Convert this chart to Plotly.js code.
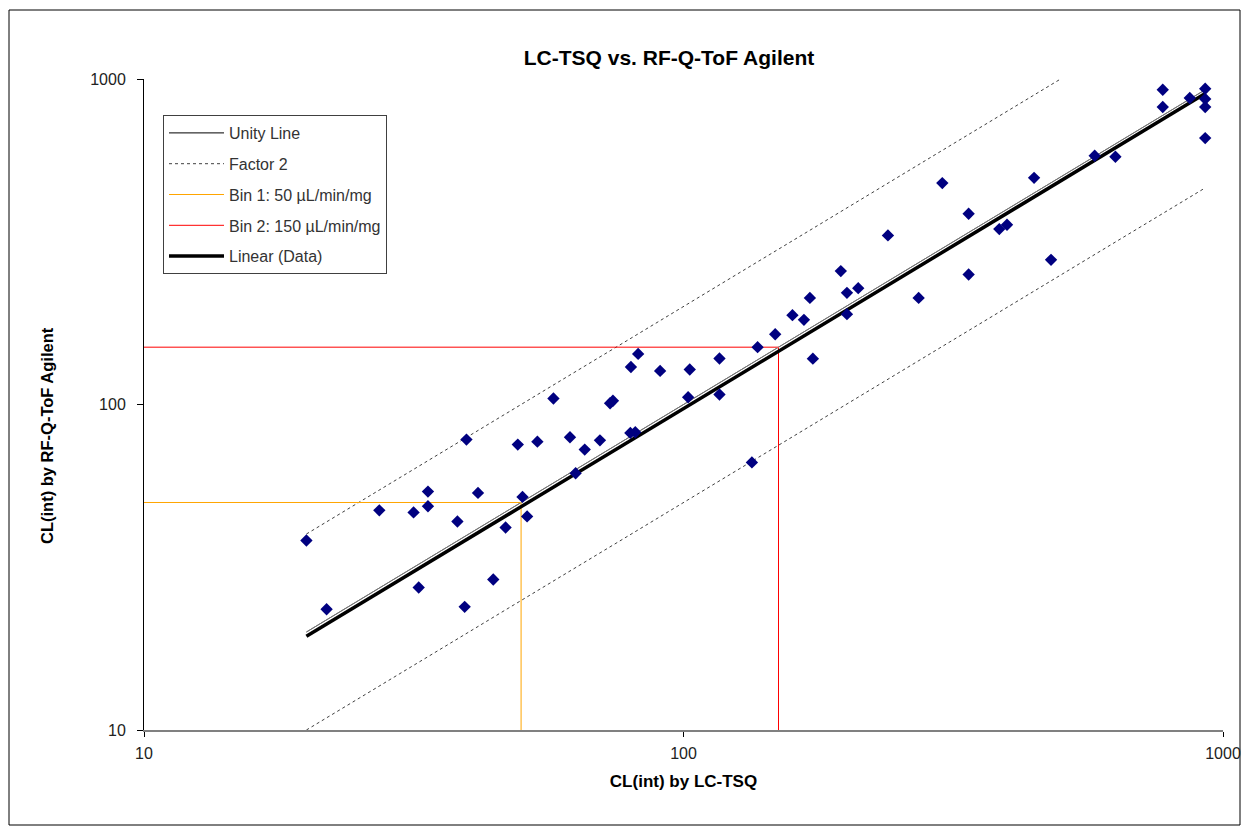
<!DOCTYPE html>
<html>
<head>
<meta charset="utf-8">
<script src="https://cdn.plot.ly/plotly-3.0.1.min.js"></script>
<style>
  html, body { margin: 0; padding: 0; background: #fff; }
  #chart { width: 1249px; height: 827px; }
</style>
</head>
<body>
<div id="chart"></div>
<script>
// ---- Data ----
const ltsqX = [20.0, 21.8, 27.3, 31.6, 32.3, 33.6, 33.6, 38.1, 39.3, 39.6,
               41.6, 44.4, 46.8, 49.3, 50.3, 51.3, 53.6, 57.4, 61.6, 63.1,
               65.6, 70.0, 73.1, 74.0, 79.9, 82.4, 90.5, 102.7, 79.7, 81.4,
               102.0, 116.6, 116.6, 137.2, 147.9, 173.7, 133.9, 159.2, 167.2, 171.5,
               195.7, 200.9, 210.8, 200.9, 239.3, 272.8, 301.8, 337.7, 337.7, 384.9,
               397.8, 446.5, 480.0, 578.3, 631.8, 773.3, 773.3, 867.8, 926.8, 926.8,
               926.8, 926.8];
const qtofY = [38.2, 23.5, 47.3, 46.6, 27.4, 54.0, 48.7, 43.7, 23.9, 78.0,
               53.5, 29.0, 41.9, 75.3, 52.0, 45.3, 76.9, 104.3, 79.3, 61.5,
               72.7, 77.6, 100.9, 102.7, 130.4, 143.0, 126.8, 128.1, 81.8, 82.2,
               105.3, 138.5, 107.3, 150.0, 164.4, 138.3, 66.4, 188.1, 182.0, 212.6,
               256.9, 220.3, 227.7, 189.5, 330.7, 212.6, 478.8, 385.4, 250.9, 345.8,
               356.5, 497.1, 278.2, 581.0, 576.8, 926.9, 820.2, 874.2, 933.6, 868.0,
               820.2, 658.5];

const unityX = [20, 927];
const unityY = [20, 927];
const factor2X = [20, 500, null, 20, 927];
const factor2Y = [40, 1000, null, 10, 463];
const bin1X = [10, 50, 50];
const bin1Y = [50, 50, 10];
const bin2X = [10, 150, 150];
const bin2Y = [150, 150, 10];
const fitX = [20, 927];
const fitY = [19.4, 902];

const tickVals = [10, 100, 1000];
const tickText = ['10', '100', '1000'];

const titleText = 'LC-TSQ vs. RF-Q-ToF Agilent';
const xTitleText = 'CL(int) by LC-TSQ';
const yTitleText = 'CL(int) by RF-Q-ToF Agilent';

// ---- Traces ----
const FONT = 'Liberation Sans, Arial, sans-serif';
const TICKFONT = 'Liberation Sans';
const traces = [
  { x: unityX, y: unityY, mode: 'lines', name: 'Unity Line', legendgroup: 'a',
    line: { color: '#000000', width: 1 } },
  { x: factor2X, y: factor2Y, mode: 'lines', name: 'Factor 2', legendgroup: 'b',
    connectgaps: false, line: { color: '#404040', width: 1, dash: 'dot' } },
  { x: bin1X, y: bin1Y, mode: 'lines', name: 'Bin 1: 50 µL/min/mg', legendgroup: 'c',
    line: { color: '#FFA500', width: 1 } },
  { x: bin2X, y: bin2Y, mode: 'lines', name: 'Bin 2: 150 µL/min/mg', legendgroup: 'd',
    line: { color: '#FF0000', width: 1 } },
  { x: fitX, y: fitY, mode: 'lines', name: 'Linear (Data)', legendgroup: 'e',
    line: { color: '#000000', width: 3.5 } },
  { x: unityX, y: unityY, mode: 'lines', showlegend: false, hoverinfo: 'skip',
    line: { color: 'rgba(200,200,200,0.6)', width: 1 } },
  { x: ltsqX, y: qtofY, mode: 'markers', name: 'Data', showlegend: false,
    marker: { symbol: 'diamond', size: 9.5, color: '#000080', line: { width: 0 } } }
];

// ---- Layout ----
const L = 144, R = 1223, T = 79, B = 730;
const W = 1249, H = 827;
const px2paperX = p => (p - L) / (R - L);
const px2paperY = p => (B - p) / (B - T);

const layout = {
  width: W, height: H,
  margin: { l: L, r: W - R, t: T, b: H - B, pad: 0 },
  paper_bgcolor: '#ffffff',
  plot_bgcolor: '#ffffff',
  font: { family: FONT, size: 16, color: '#222222' },
  title: {
    text: titleText,
    font: { family: FONT, size: 21, color: '#000000', weight: 'bold' },
    xref: 'container', yref: 'container',
    x: 669 / W, xanchor: 'center',
    y: 1 - 57.5 / H, yanchor: 'middle'
  },
  xaxis: {
    type: 'log', range: [1, 3], autorange: false,
    tickmode: 'array', tickvals: tickVals, ticktext: tickText,
    ticks: 'outside', ticklen: 5, tickcolor: '#000000', tickwidth: 1,
    ticklabelstandoff: 3,
    showline: true, linecolor: '#808080', linewidth: 2,
    showgrid: false, zeroline: false,
    tickfont: { family: TICKFONT, size: 16, color: '#222222' },
    title: { text: xTitleText, font: { family: FONT, size: 17, color: '#000000', weight: 'bold' }, standoff: 14 }
  },
  yaxis: {
    type: 'log', range: [1, 3], autorange: false,
    tickmode: 'array', tickvals: tickVals, ticktext: tickText,
    ticks: 'outside', ticklen: 6, tickcolor: '#000000', tickwidth: 1,
    ticklabelstandoff: 8,
    showline: true, linecolor: '#000000', linewidth: 1,
    showgrid: false, zeroline: false,
    tickfont: { family: TICKFONT, size: 16, color: '#222222' }
  },
  annotations: [
    { text: yTitleText, xref: 'paper', yref: 'paper',
      x: px2paperX(47), y: px2paperY(436), xanchor: 'center', yanchor: 'middle',
      textangle: -90, showarrow: false,
      font: { family: FONT, size: 16.5, color: '#000000', weight: 'bold' } }
  ],
  legend: {
    x: px2paperX(163), y: px2paperY(115), xanchor: 'left', yanchor: 'top',
    bgcolor: '#ffffff', bordercolor: '#404040', borderwidth: 1,
    font: { family: FONT, size: 16, color: '#333333' },
    tracegroupgap: 7, traceorder: 'grouped', itemwidth: 55
  },
  shapes: [
    { type: 'rect', xref: 'paper', yref: 'paper', layer: 'below',
      x0: px2paperX(9), x1: px2paperX(1240), y0: px2paperY(825), y1: px2paperY(10),
      line: { color: '#000000', width: 1 }, fillcolor: 'rgba(0,0,0,0)' }
  ],
  showlegend: true
};

Plotly.newPlot('chart', traces, layout, { displayModeBar: false, staticPlot: true });
</script>
</body>
</html>
